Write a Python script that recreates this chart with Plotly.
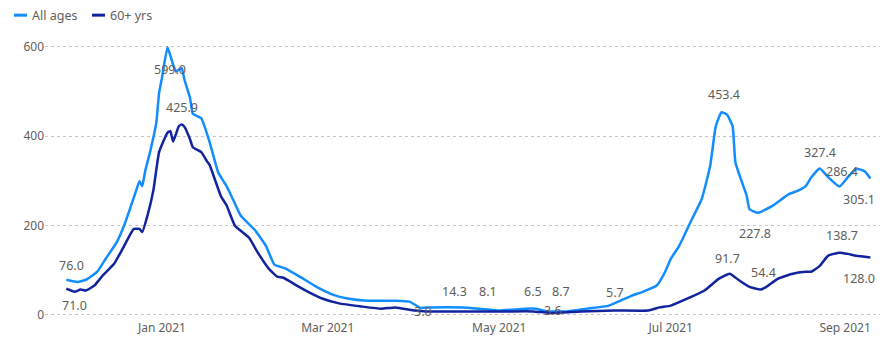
import plotly.graph_objects as go

# ---- Data ----
all_dates = [
    "2020-11-28", "2020-12-02", "2020-12-05", "2020-12-09", "2020-12-12", "2020-12-16",
    "2020-12-19", "2020-12-23", "2020-12-24", "2020-12-25", "2020-12-26", "2020-12-28",
    "2020-12-30", "2020-12-31", "2021-01-01", "2021-01-03", "2021-01-05", "2021-01-06",
    "2021-01-08", "2021-01-09", "2021-01-11", "2021-01-12", "2021-01-15", "2021-01-18",
    "2021-01-21", "2021-01-24", "2021-01-26", "2021-01-29", "2021-02-03", "2021-02-07",
    "2021-02-10", "2021-02-14", "2021-02-19", "2021-02-25", "2021-03-03", "2021-03-08",
    "2021-03-15", "2021-03-25", "2021-03-30", "2021-04-03", "2021-04-06", "2021-04-18",
    "2021-04-24", "2021-05-01", "2021-05-10", "2021-05-14", "2021-05-18", "2021-05-25",
    "2021-06-01", "2021-06-09", "2021-06-17", "2021-06-21", "2021-06-26", "2021-06-29",
    "2021-07-01", "2021-07-04", "2021-07-08", "2021-07-12", "2021-07-15", "2021-07-17",
    "2021-07-19", "2021-07-21", "2021-07-23", "2021-07-24", "2021-07-28", "2021-07-29",
    "2021-08-01", "2021-08-06", "2021-08-12", "2021-08-15", "2021-08-18", "2021-08-20",
    "2021-08-23", "2021-08-26", "2021-08-30", "2021-09-02", "2021-09-05", "2021-09-08",
    "2021-09-10",
]
all_ages = [
    78, 73, 78, 96, 125, 163,
    207, 281, 299, 288, 320, 370,
    430, 497, 530, 599, 560, 545,
    553, 527, 486, 450, 440, 386,
    319, 288, 262, 222, 190, 154,
    112, 103, 85, 62, 44, 36,
    31, 31, 29, 15, 16, 16,
    13, 9, 13, 13, 7, 7,
    13, 20, 42, 51, 65, 96,
    125, 154, 207, 259, 333, 422,
    453.4, 448, 422, 341, 266, 236,
    228, 243, 270, 277, 288, 308,
    327.4, 308, 287, 308, 327, 321,
    305.1,
]

old_dates = [
    "2020-11-28", "2020-12-01", "2020-12-03", "2020-12-05", "2020-12-08", "2020-12-11",
    "2020-12-15", "2020-12-18", "2020-12-22", "2020-12-24", "2020-12-25", "2020-12-27",
    "2020-12-29", "2020-12-31", "2021-01-03", "2021-01-04", "2021-01-05", "2021-01-07",
    "2021-01-08", "2021-01-09", "2021-01-11", "2021-01-12", "2021-01-15", "2021-01-17",
    "2021-01-18", "2021-01-20", "2021-01-22", "2021-01-24", "2021-01-27", "2021-02-01",
    "2021-02-04", "2021-02-08", "2021-02-11", "2021-02-13", "2021-02-18", "2021-02-22",
    "2021-02-27", "2021-03-05", "2021-03-13", "2021-03-20", "2021-03-25", "2021-04-01",
    "2021-04-05", "2021-04-12", "2021-04-24", "2021-05-04", "2021-05-13", "2021-05-19",
    "2021-05-30", "2021-06-11", "2021-06-23", "2021-06-27", "2021-07-01", "2021-07-07",
    "2021-07-13", "2021-07-18", "2021-07-22", "2021-07-25", "2021-07-29", "2021-08-02",
    "2021-08-04", "2021-08-08", "2021-08-13", "2021-08-18", "2021-08-20", "2021-08-23",
    "2021-08-26", "2021-08-30", "2021-09-02", "2021-09-05", "2021-09-10",
]
age_60_plus = [
    58, 51, 56, 54, 65, 88,
    114, 147, 192, 192, 185, 225,
    280, 364, 408, 411, 388, 422,
    425.9, 421, 393, 375, 364, 344,
    335, 300, 265, 245, 199, 172,
    140, 103, 85, 83, 65, 51,
    36, 25, 18, 13, 16, 9,
    7, 7, 7, 7, 7, 3.6,
    7, 9, 9, 16, 20, 36,
    54, 80, 91.7, 78, 62, 56,
    62, 80, 91, 96, 96, 109,
    132, 138.7, 136, 132, 128.0,
]

series_names = ["All ages", "60+ yrs"]
series_colors = ["#118DFF", "#12239E"]

# data labels: anchor date, anchor value, text
label_dates = [
    "2020-11-30", "2020-12-01", "2021-01-04", "2021-01-08", "2021-04-15", "2021-04-27",
    "2021-05-13", "2021-05-23", "2021-05-20", "2021-04-04", "2021-06-11", "2021-07-20",
    "2021-07-31", "2021-07-21", "2021-08-03", "2021-08-23", "2021-08-31", "2021-09-06",
    "2021-08-31", "2021-09-06",
]
label_values = [
    76.0, 71.0, 599.0, 425.9, 14.3, 8.1,
    6.5, 8.7, 3.6, 3.0, 5.7, 453.4,
    227.8, 91.7, 54.4, 327.4, 286.4, 305.1,
    138.7, 128.0,
]
label_texts = [f"{v:.1f}" for v in label_values]
label_yshifts = [
    15, -23, -22, 17, 17, 19,
    20, 19, 2, 2, 20, 18,
    -21, 15, 18, 16, 15, -21,
    17, -21,
]

y_ticks = [0, 200, 400, 600]
x_tickvals = ["2021-01-01", "2021-03-01", "2021-05-01", "2021-07-01", "2021-09-01"]
x_ticktext = ["Jan 2021", "Mar 2021", "May 2021", "Jul 2021", "Sep 2021"]

# ---- Figure ----
FONT = "Noto Sans, Open Sans, sans-serif"
text_color = "#605E5C"

fig = go.Figure()
fig.add_trace(go.Scatter(x=all_dates, y=all_ages, mode="lines", name=series_names[0],
                         line=dict(color=series_colors[0], width=2.5, shape="spline", smoothing=0.4)))
fig.add_trace(go.Scatter(x=old_dates, y=age_60_plus, mode="lines", name=series_names[1],
                         line=dict(color=series_colors[1], width=2.5, shape="spline", smoothing=0.4)))

for d, v, t, s in zip(label_dates, label_values, label_texts, label_yshifts):
    fig.add_annotation(x=d, y=v, text=t, showarrow=False, yshift=s,
                       font=dict(family=FONT, size=12.5, color=text_color))

# compact legend (Power BI style) drawn in paper coordinates
PLOT_L, PLOT_W, PLOT_B, PLOT_H = 45, 835, 321, 283
def px(xp):
    return (xp - PLOT_L) / PLOT_W
def py(yp):
    return (PLOT_B - yp) / PLOT_H

legend_x = [(14, 30), (92, 108)]
for (sx, tx), name, color in zip(legend_x, series_names, series_colors):
    fig.add_shape(type="line", xref="paper", yref="paper",
                  x0=px(sx), x1=px(sx + 13), y0=py(15), y1=py(15),
                  line=dict(color=color, width=3))
    fig.add_annotation(xref="paper", yref="paper", x=px(tx), y=py(15), text=name,
                       showarrow=False, xanchor="left", yanchor="middle",
                       font=dict(family=FONT, size=12.5, color=text_color))

fig.update_layout(
    width=885, height=341,
    margin=dict(l=45, r=5, t=38, b=20),
    paper_bgcolor="white", plot_bgcolor="white",
    font=dict(family=FONT, size=12, color=text_color),
    showlegend=False,
    xaxis=dict(range=["2020-11-20 10:00", "2021-09-13 10:00"], type="date",
               tickvals=x_tickvals, ticktext=x_ticktext, showgrid=False, zeroline=False,
               showline=False, ticks="", tickfont=dict(size=12, color=text_color)),
    yaxis=dict(range=[-10, 620], tickvals=y_ticks, showgrid=True, gridcolor="#C8C6C4",
               griddash="dot", gridwidth=1, zeroline=False, showline=False, ticks="",
               tickfont=dict(size=12, color=text_color)),
)

fig.write_html("out.html")
